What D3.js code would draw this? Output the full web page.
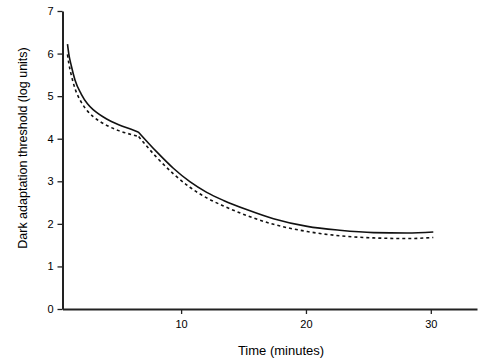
<!DOCTYPE html>
<html lang="en">
<head>
  <meta charset="UTF-8">
  <title>Dark adaptation curve</title>
  <script src="https://d3js.org/d3.v7.min.js"></script>
  <style>
    body { margin: 0; background: #fff; }
    text { font-family: "Liberation Sans", Arial, sans-serif; fill: #000; }
  </style>
</head>
<body>
<div id="chart"></div>
<script>
// time in minutes
const times = [0.9, 1.0, 1.2, 1.5, 2.0, 2.5, 3.0, 4.0, 5.0, 6.0, 6.6, 8.05, 9.4, 10.7, 12.05, 13.4, 15.3, 17.4, 20.1, 22.7, 25.4, 28.1, 30.2];
// threshold (log units), solid curve
const solidVals = [6.22, 6.0, 5.72, 5.38, 5.05, 4.82, 4.67, 4.47, 4.33, 4.22, 4.15, 3.69, 3.30, 2.99, 2.74, 2.55, 2.33, 2.12, 1.94, 1.85, 1.795, 1.785, 1.81];
// threshold (log units), dashed curve
const dashedVals = [5.98, 5.78, 5.50, 5.18, 4.86, 4.65, 4.51, 4.32, 4.19, 4.10, 4.05, 3.56, 3.17, 2.86, 2.61, 2.42, 2.19, 1.99, 1.82, 1.72, 1.67, 1.655, 1.68];
// the rod-cone break
const kneeTime = 6.6;
const xTicks = [10, 20, 30];
const yTicks = [0, 1, 2, 3, 4, 5, 6, 7];

const width = 487, height = 364;
const margin = {top: 11, right: 10, bottom: 55, left: 62.5};

const svg = d3.select("#chart").append("svg")
  .attr("width", width)
  .attr("height", height);

const x = d3.scaleLinear().domain([0.5, 33.7]).range([margin.left, width - margin.right]);
const y = d3.scaleLinear().domain([0, 7]).range([height - margin.bottom, margin.top]);

// axes
const xAxis = svg.append("g")
  .attr("transform", `translate(0,${y(0)})`)
  .call(d3.axisBottom(x).tickValues(xTicks).tickFormat(d3.format("d"))
    .tickSize(5).tickSizeOuter(0).tickPadding(6));
const yAxis = svg.append("g")
  .attr("transform", `translate(${x.range()[0]},0)`)
  .call(d3.axisLeft(y).tickValues(yTicks).tickFormat(d3.format("d"))
    .tickSize(5).tickSizeOuter(0).tickPadding(4));

[xAxis, yAxis].forEach(g => {
  g.select(".domain").attr("stroke", "#222").attr("stroke-width", 2);
  g.selectAll(".tick line").attr("stroke", "#222").attr("stroke-width", 1.3);
  g.selectAll(".tick text").attr("font-size", 11).attr("font-family", "Liberation Sans, Arial, sans-serif");
});

// curves: drawn in two pieces so the break stays sharp
const k = times.indexOf(kneeTime);
const lineGen = d3.line()
  .x(d => x(d[0]))
  .y(d => y(d[1]))
  .curve(d3.curveMonotoneX);
const pieces = vals => {
  const pts = times.map((t, i) => [t, vals[i]]);
  return lineGen(pts.slice(0, k + 1)) + lineGen(pts.slice(k));
};

svg.append("path")
  .attr("d", pieces(dashedVals))
  .attr("fill", "none")
  .attr("stroke", "#111")
  .attr("stroke-width", 1.6)
  .attr("stroke-dasharray", "3,3");

svg.append("path")
  .attr("d", pieces(solidVals))
  .attr("fill", "none")
  .attr("stroke", "#111")
  .attr("stroke-width", 1.6);

// axis titles
svg.append("text")
  .attr("x", 281)
  .attr("y", 355)
  .attr("text-anchor", "middle")
  .attr("font-size", 13)
  .text("Time (minutes)");

svg.append("text")
  .attr("transform", "translate(27,148) rotate(-90)")
  .attr("text-anchor", "middle")
  .attr("font-size", 12.5)
  .text("Dark adaptation threshold (log units)");
</script>
</body>
</html>
